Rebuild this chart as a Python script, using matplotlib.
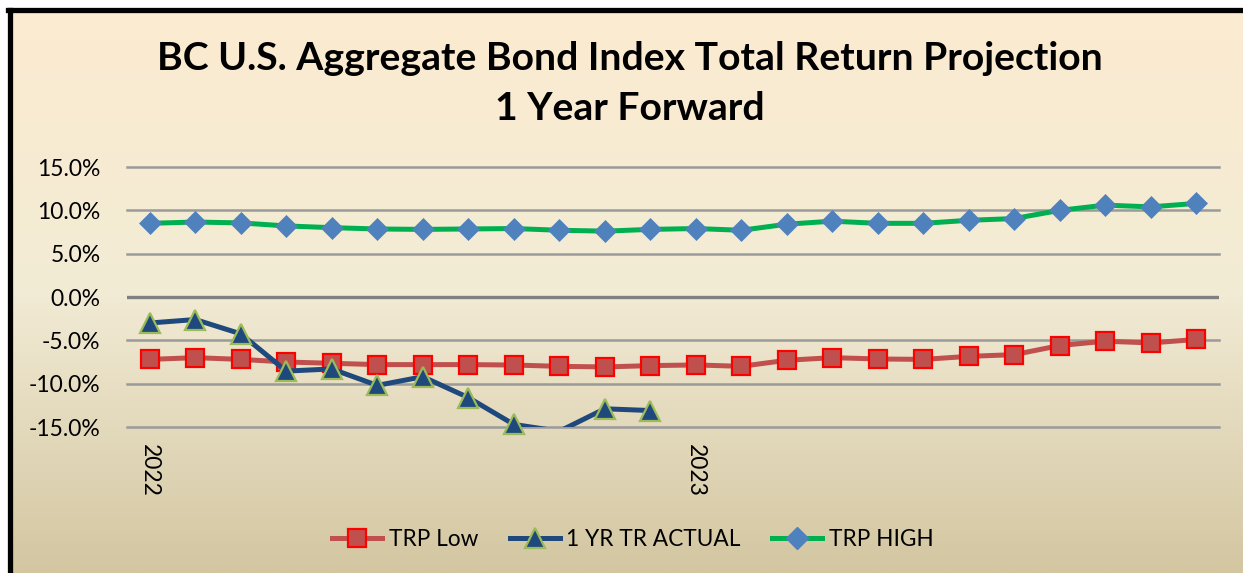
import matplotlib
matplotlib.use('Agg')
import matplotlib.pyplot as plt
import numpy as np
from matplotlib.lines import Line2D
from matplotlib.colors import LinearSegmentedColormap

plt.rcParams['font.family'] = ['Lato', 'DejaVu Sans']

# monthly points, Jan 2022 .. Dec 2023
months = list(range(24))
year_ticks = [0, 12]
year_labels = ['2022', '2023']

trp_low = [-7.2, -7.0, -7.2, -7.5, -7.65, -7.8, -7.8, -7.8, -7.85, -8.0, -8.07, -7.92,
           -7.84, -8.0, -7.3, -7.0, -7.15, -7.2, -6.85, -6.65, -5.6, -5.1, -5.3, -4.9]
actual = [-3.0, -2.6, -4.25, -8.55, -8.3, -10.2, -9.2, -11.6, -14.7, -15.5, -12.9, -13.1]
trp_high = [8.5, 8.65, 8.55, 8.2, 8.0, 7.85, 7.8, 7.85, 7.9, 7.7, 7.6, 7.8,
            7.9, 7.7, 8.4, 8.75, 8.5, 8.5, 8.85, 9.05, 10.0, 10.6, 10.4, 10.8]

fig = plt.figure(figsize=(12.43, 5.73), dpi=100, facecolor='white')

# gradient background inside the black frame
bg = fig.add_axes([10/1243, 0, 1 - 10/1243, 1 - 10/573])
cmap = LinearSegmentedColormap.from_list('bg', [(0, '#fcecd0'), (0.5, '#f2ebd5'), (1, '#d3c6a1')])
bg.imshow(np.linspace(0, 1, 256).reshape(-1, 1), aspect='auto', cmap=cmap, extent=[0, 1, 0, 1])
bg.axis('off')
fig.add_artist(Line2D([10/1243, 10/1243], [0, 1 - 9.5/573], color='black', lw=3.8, transform=fig.transFigure))
fig.add_artist(Line2D([8/1243, 1], [1 - 9.5/573, 1 - 9.5/573], color='black', lw=3.8, transform=fig.transFigure))

ax = fig.add_axes([127/1243, 1 - 427/573, 1092/1243, 260/573])
ax.set_facecolor('none')
ax.set_xlim(-0.5, 23.5)
ax.set_ylim(-15, 15)
ax.set_yticks([-15, -10, -5, 0, 5, 10, 15])
ax.set_yticklabels(['%.1f%%' % v for v in [-15, -10, -5, 0, 5, 10, 15]])
ax.set_xticks(year_ticks)
ax.set_xticklabels(year_labels, rotation=-90, va='top', ha='center')
for v in [-15, -10, -5, 5, 10, 15]:
    ax.axhline(v, color='#9a9a9a', lw=1.8, zorder=1, clip_on=False)
ax.axhline(0, color='#808080', lw=2.4, zorder=1)
for s in ax.spines.values():
    s.set_visible(False)
ax.tick_params(axis='both', length=0, labelsize=16.5, colors='black')
ax.tick_params(axis='y', pad=19)
ax.tick_params(axis='x', pad=12)

ax.plot(months, trp_low, color='#c0504d', lw=3.6, marker='s', ms=13.5,
        mfc='#c0504d', mec='#ff0000', mew=1.6, zorder=3, clip_on=False, label='TRP Low')

act_x = months[:len(actual)]
ax.plot(act_x, actual, color='#1f497d', lw=3.6, zorder=4)
vis = [i for i, v in enumerate(actual) if v >= -15]
ax.plot([act_x[i] for i in vis], [actual[i] for i in vis], ls='none', marker='^', ms=14,
        mfc='#1f497d', mec='#9bbb59', mew=1.6, zorder=5, clip_on=False)

ax.plot(months, trp_high, color='#00b050', lw=3.6, marker='D', ms=11,
        mfc='#4f81bd', mec='#4f81bd', mew=0.5, zorder=3, clip_on=False, label='TRP HIGH')

handles = [
    Line2D([], [], color='#c0504d', lw=3.6, marker='s', ms=13.5, mfc='#c0504d', mec='#ff0000', mew=1.6),
    Line2D([], [], color='#1f497d', lw=3.6, marker='^', ms=14, mfc='#1f497d', mec='#9bbb59', mew=1.6),
    Line2D([], [], color='#00b050', lw=3.6, marker='D', ms=11, mfc='#4f81bd', mec='#4f81bd'),
]
fig.legend(handles, ['TRP Low', '1 YR TR ACTUAL', 'TRP HIGH'], loc='center',
           bbox_to_anchor=(633/1243, 1 - 539/573), ncol=3, frameon=False, fontsize=16.3,
           handlelength=2.2, handletextpad=0.3, columnspacing=1.4)

fig.text(630/1243, 1 - 58/573, 'BC U.S. Aggregate Bond Index Total Return Projection',
         ha='center', va='center', fontsize=28.2, fontweight='bold')
fig.text(630/1243, 1 - 108/573, '1 Year Forward', ha='center', va='center', fontsize=28.2, fontweight='bold')

fig.savefig('out.png', dpi=100, facecolor='white')
